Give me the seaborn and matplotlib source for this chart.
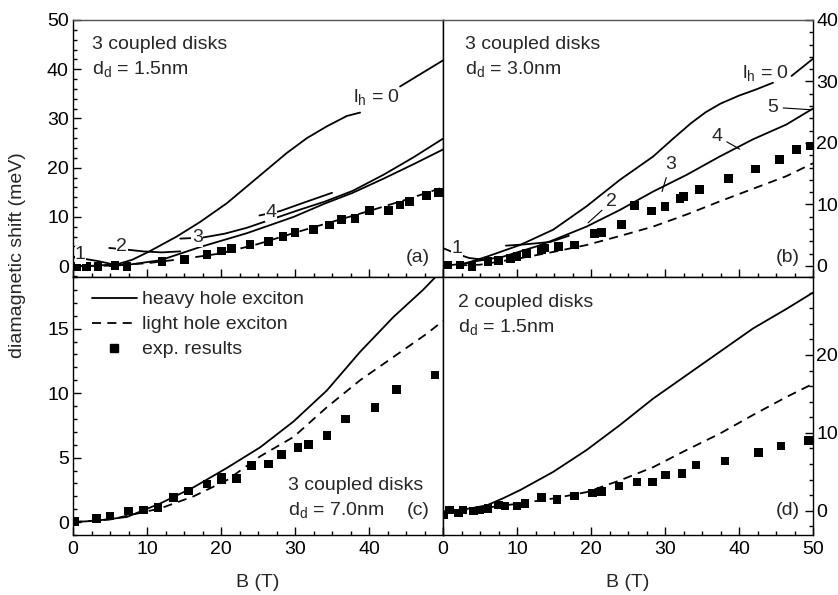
import matplotlib
matplotlib.use('Agg')
import matplotlib.pyplot as plt
import seaborn as sns
from matplotlib.ticker import MultipleLocator, FixedLocator
from matplotlib.lines import Line2D

# ---------------- data ----------------
# panel (a): 3 coupled disks, d_d = 1.5 nm
a_B0 = [0, 3, 6, 8, 10.2, 14.0, 17.2, 20.8, 23.5, 26.2, 28.9, 31.6, 34.3, 37.0, 38.8]
a_E0 = [0, 0.1, 0.4, 1.3, 2.9, 6.0, 9.0, 12.8, 16.2, 19.6, 23.0, 26.0, 28.4, 30.5, 31.2]
a_B0t = [44.2, 50]
a_E0t = [36.5, 41.8]
a_Bm = [5, 8, 11.8, 17.2, 23.5, 29.8, 34, 37.8, 42, 46, 50]
a_Em = [0, 0.4, 1.2, 3.9, 6.7, 10.0, 12.7, 14.9, 17.8, 20.7, 23.7]
a_B1 = [0, 1.5, 3.5, 5.9]
a_E1 = [1.8, 1.5, 1.0, 0.2]
a_B2 = [4.9, 7, 9.5, 12, 14.5]
a_E2 = [3.7, 3.4, 3.0, 2.8, 3.0]
a_B3 = [14.5, 17.5, 20.5, 23.5, 27, 30.5, 34, 37.8, 42, 46, 50]
a_E3 = [5.6, 5.8, 6.6, 7.8, 9.6, 11.4, 13.1, 15.3, 18.6, 22.1, 25.9]
a_B4 = [25.2, 28, 31, 35]
a_E4 = [10.3, 11.2, 12.8, 14.9]
a_Bl = [0, 5, 10, 15, 20, 25, 30, 35, 40, 45, 50]
a_El = [0, 0.1, 0.6, 1.5, 2.6, 4.5, 6.8, 9.0, 11.2, 13.5, 16.0]
a_Bx = [0.5, 1.85, 3.4, 5.7, 7.3, 12.0, 15.1, 18.1, 20.1, 21.4, 23.9, 26.4, 28.4, 30.0,
        32.5, 34.7, 36.3, 38.1, 40.1, 42.6, 44.2, 45.5, 47.8, 49.4]
a_Ex = [-0.1, -0.1, -0.1, 0.1, -0.1, 0.9, 1.4, 2.4, 3.1, 3.6, 4.4, 5.0, 6.0, 6.8,
        7.5, 8.4, 9.5, 9.7, 11.3, 11.3, 12.4, 13.1, 14.3, 15.0]

# panel (b): 3 coupled disks, d_d = 3.0 nm
b_B0 = [0, 3, 5.9, 10.4, 14.9, 19.4, 23.9, 28.4, 31, 33.5, 35.5, 37.5, 40, 42.3, 44.6]
b_E0 = [0, 0.4, 1.5, 3.4, 5.9, 9.7, 14.0, 17.8, 20.6, 23.2, 25.0, 26.4, 27.7, 28.7, 29.8]
b_B0t = [47.1, 50]
b_E0t = [30.9, 33.7]
b_Bm = [2, 4.1, 8.1, 12.7, 14.9, 19.4, 23.9, 28.4, 32.9, 37.4, 41.9, 46.4, 50]
b_Em = [0.2, 0.7, 1.5, 3.2, 4.2, 6.4, 9.1, 12.1, 14.8, 17.8, 20.6, 23.0, 25.6]
b_B1 = [0, 1.8, 3.5, 5.5]
b_E1 = [2.9, 2.0, 1.3, 1.0]
b_B2 = [8.5, 11, 14.5, 17]
b_E2 = [3.3, 3.5, 3.9, 4.9]
b_Bl = [0, 5, 10.4, 15, 19.4, 24, 28.4, 33, 37.4, 42, 46.4, 50]
b_El = [0, 0.2, 1.25, 2.3, 3.4, 4.9, 6.4, 8.4, 10.5, 12.6, 14.6, 16.7]
b_Bx = [0.7, 2.3, 3.9, 6.1, 7.5, 9.1, 10.0, 11.3, 13.3, 13.8, 15.6, 17.8, 20.5, 21.4,
        24.1, 25.9, 28.2, 30.0, 32.0, 32.5, 34.7, 38.6, 42.2, 45.5, 47.8, 49.6]
b_Ex = [0.16, 0.16, -0.1, 0.7, 0.9, 1.25, 1.5, 2.0, 2.7, 2.9, 3.2, 3.4, 5.3, 5.4,
        6.7, 9.8, 8.9, 9.7, 11.0, 11.3, 12.4, 14.2, 15.8, 17.3, 18.9, 19.5]

# panel (c): 3 coupled disks, d_d = 7.0 nm
c_Bh = [0, 3, 7.3, 11.8, 16.3, 20.8, 25.3, 29.8, 34.3, 38.8, 43.3, 47.3, 50]
c_Eh = [0, 0.1, 0.4, 1.45, 2.7, 4.2, 5.8, 7.8, 10.2, 13.2, 15.9, 18.0, 19.6]
c_Bl = [0, 5, 11.8, 16.3, 20.8, 25.3, 29.8, 34.3, 38.8, 43.3, 47.8, 50]
c_El = [0, 0.2, 1.06, 2.0, 3.25, 5.1, 6.6, 8.9, 11.0, 12.8, 14.6, 15.6]
c_Bx = [0.27, 3.2, 5.0, 7.5, 9.5, 11.5, 13.6, 15.6, 18.1, 20.1, 20.1, 22.1, 24.1, 26.4,
        28.2, 30.4, 31.8, 34.3, 36.8, 40.8, 43.7, 48.9]
c_Ex = [0.03, 0.28, 0.47, 0.85, 0.93, 1.14, 1.9, 2.4, 2.95, 3.5, 3.26, 3.4, 4.4, 4.5,
        5.25, 5.8, 6.0, 6.7, 8.0, 8.9, 10.3, 11.4]

# panel (d): 2 coupled disks, d_d = 1.5 nm
d_Bh = [0, 3.6, 5.9, 8.1, 10.4, 14.9, 19.4, 23.9, 28.4, 32.9, 37.4, 41.9, 46.4, 50]
d_Eh = [-0.1, 0.3, 0.7, 1.6, 2.65, 5.0, 7.8, 11.0, 14.4, 17.4, 20.4, 23.4, 25.9, 28.0]
d_Bl = [0, 5, 10.4, 15, 19.4, 23.9, 28.4, 32.9, 37.4, 41.9, 46.4, 50]
d_El = [-0.1, 0.3, 0.95, 1.6, 2.4, 3.9, 5.6, 7.8, 9.9, 12.3, 14.6, 16.3]
d_Bx = [0.05, 0.86, 2.1, 2.7, 4.1, 5.0, 6.1, 7.5, 8.4, 10.0, 11.1, 13.3, 15.4, 17.8,
        20.2, 21.4, 23.8, 26.2, 28.3, 30.1, 32.3, 34.2, 38.1, 42.6, 45.7, 49.4]
d_Ex = [-0.55, 0.09, -0.25, 0.09, 0.0, 0.09, 0.3, 0.73, 0.6, 0.6, 0.94, 1.7, 1.46, 1.9,
        2.3, 2.5, 3.2, 3.7, 3.7, 4.6, 4.8, 5.9, 6.4, 7.5, 8.3, 9.0]

legend_labels = ["heavy hole exciton", "light hole exciton", "exp. results"]

# ---------------- style ----------------
sns.set_theme(style='ticks')
plt.rcParams['font.family'] = ['Liberation Sans', 'DejaVu Sans']
plt.rcParams['mathtext.fontset'] = 'custom'
plt.rcParams['mathtext.rm'] = 'Liberation Sans'
plt.rcParams['mathtext.it'] = 'Liberation Sans:italic'
plt.rcParams['mathtext.sf'] = 'Liberation Sans'
plt.rcParams['axes.edgecolor'] = 'black'
plt.rcParams['axes.linewidth'] = 1.0
plt.rcParams['xtick.color'] = 'black'
plt.rcParams['ytick.color'] = 'black'
plt.rcParams['lines.dashed_pattern'] = [5, 3.5]
FS = 14

fig = plt.figure(figsize=(8.38, 5.95), dpi=100)
W, H = 838, 595
L, M, R = 73 / W, 443 / W, 813 / W
T, MID, BOT = 1 - 20 / H, 1 - 277 / H, 1 - 535 / H
axA = fig.add_axes([L, MID, M - L, T - MID])
axB = fig.add_axes([M, MID, R - M, T - MID])
axC = fig.add_axes([L, BOT, M - L, MID - BOT])
axD = fig.add_axes([M, BOT, R - M, MID - BOT])

LW = 1.3


def solid(ax, B, E):
    sns.lineplot(x=B, y=E, ax=ax, color='black', lw=LW, sort=False, estimator=None)


def dashed(ax, B, E):
    sns.lineplot(x=B, y=E, ax=ax, color='black', lw=LW, linestyle='--', sort=False, estimator=None)


def squares(ax, B, E):
    sns.scatterplot(x=B, y=E, ax=ax, marker='s', s=38, color='black', edgecolor='none', zorder=4)


# panel a
solid(axA, a_B0, a_E0)
solid(axA, a_B0t, a_E0t)
solid(axA, a_Bm, a_Em)
solid(axA, a_B1, a_E1)
solid(axA, a_B2, a_E2)
solid(axA, a_B3, a_E3)
solid(axA, a_B4, a_E4)
dashed(axA, a_Bl, a_El)
squares(axA, a_Bx, a_Ex)

# panel b
solid(axB, b_B0, b_E0)
solid(axB, b_B0t, b_E0t)
solid(axB, b_Bm, b_Em)
solid(axB, b_B1, b_E1)
solid(axB, b_B2, b_E2)
dashed(axB, b_Bl, b_El)
squares(axB, b_Bx, b_Ex)

# panel c
solid(axC, c_Bh, c_Eh)
dashed(axC, c_Bl, c_El)
squares(axC, c_Bx, c_Ex)

# panel d
solid(axD, d_Bh, d_Eh)
dashed(axD, d_Bl, d_El)
squares(axD, d_Bx, d_Ex)

# ---------------- axes ----------------
for ax in (axA, axB, axC, axD):
    ax.set_xlim(0, 50)
    ax.xaxis.set_major_locator(MultipleLocator(10))
    ax.xaxis.set_minor_locator(MultipleLocator(2.5))
    ax.tick_params(which='both', direction='in', width=1.0, labelsize=FS, colors='black')
    ax.tick_params(which='major', length=5.5)
    ax.tick_params(which='minor', length=2.8)
    ax.set_xlabel('')
    ax.set_ylabel('')
    for s in ax.spines.values():
        s.set_color('black')
        s.set_linewidth(1.0)

for ax in (axA, axB):
    ax.spines['top'].set_color('#555555')

axA.set_ylim(-2.2, 50)
axA.yaxis.set_major_locator(MultipleLocator(10))
axA.yaxis.set_minor_locator(MultipleLocator(2))
axA.tick_params(which='both', left=True, right=False, top=False, bottom=True,
                labelleft=True, labelbottom=False)
axA.tick_params(axis='y', pad=3)

axB.set_ylim(-1.8, 40)
axB.yaxis.set_major_locator(MultipleLocator(10))
axB.yaxis.set_minor_locator(MultipleLocator(2))
axB.yaxis.tick_right()
axB.tick_params(which='both', left=False, right=True, top=False, bottom=True,
                labelleft=False, labelright=True, labelbottom=False)
axB.tick_params(axis='y', pad=2.5)

axC.set_ylim(-1.0, 19)
axC.yaxis.set_major_locator(FixedLocator([0, 5, 10, 15]))
axC.yaxis.set_minor_locator(MultipleLocator(1))
axC.tick_params(which='both', left=True, right=False, top=False, bottom=True,
                labelleft=True, labelbottom=True)
axC.set_xticks([0, 10, 20, 30, 40, 50])
axC.set_xticklabels(['0', '10', '20', '30', '40', ''])
axC.tick_params(axis='x', pad=4)
axC.tick_params(axis='y', pad=3)

axD.set_ylim(-3.1, 30)
axD.yaxis.set_major_locator(FixedLocator([0, 10, 20]))
axD.yaxis.set_minor_locator(MultipleLocator(2))
axD.yaxis.tick_right()
axD.tick_params(which='both', left=False, right=True, top=False, bottom=True,
                labelleft=False, labelright=True, labelbottom=True)
axD.tick_params(axis='x', pad=4)
axD.tick_params(axis='y', pad=2.5)

axC.set_xlabel('B (T)', fontsize=FS, labelpad=12)
axD.set_xlabel('B (T)', fontsize=FS, labelpad=12)
fig.text(18 / W, 1 - 255 / H, 'diamagnetic shift (meV)', rotation=90, ha='center', va='center', fontsize=FS)

# ---------------- annotations ----------------
wb = dict(facecolor='white', edgecolor='none', pad=0.3)
axA.text(0.05, 0.905, '3 coupled disks', transform=axA.transAxes, fontsize=FS, va='center')
axA.text(0.05, 0.81, r'd$_\mathregular{d}$ = 1.5nm', transform=axA.transAxes, fontsize=FS, va='center')
axA.text(0.965, 0.075, '(a)', transform=axA.transAxes, fontsize=FS, ha='right', va='center')
axA.text(41.0, 34.3, r'l$_\mathregular{h}$ = 0', fontsize=FS, ha='center', va='center')
axA.text(1.0, 2.3, '1', fontsize=FS, ha='center', va='center', bbox=wb, zorder=5)
axA.text(6.6, 3.9, '2', fontsize=FS, ha='center', va='center', bbox=wb, zorder=5)
axA.text(16.8, 5.8, '3', fontsize=FS, ha='center', va='center', bbox=wb, zorder=5)
axA.text(26.8, 10.8, '4', fontsize=FS, ha='center', va='center', bbox=wb, zorder=5)

axB.text(0.06, 0.905, '3 coupled disks', transform=axB.transAxes, fontsize=FS, va='center')
axB.text(0.06, 0.81, r'd$_\mathregular{d}$ = 3.0nm', transform=axB.transAxes, fontsize=FS, va='center')
axB.text(0.965, 0.075, '(b)', transform=axB.transAxes, fontsize=FS, ha='right', va='center')
axB.text(43.6, 31.4, r'l$_\mathregular{h}$ = 0', fontsize=FS, ha='center', va='center')
axB.text(1.85, 2.9, '1', fontsize=FS, ha='center', va='center', bbox=wb, zorder=5)
lead = dict(arrowstyle='-', lw=0.8, color='black', shrinkA=1, shrinkB=0)
axB.annotate('2', xy=(19.6, 7.0), xytext=(22.8, 10.5), fontsize=FS, ha='center', va='center', arrowprops=lead)
axB.annotate('3', xy=(29.6, 12.1), xytext=(30.7, 16.5), fontsize=FS, ha='center', va='center', arrowprops=lead)
axB.annotate('4', xy=(40.1, 19.0), xytext=(37.0, 21.1), fontsize=FS, ha='center', va='center', arrowprops=lead)
axB.annotate('5', xy=(49.8, 25.4), xytext=(44.6, 25.8), fontsize=FS, ha='center', va='center', arrowprops=lead)

axC.text(0.58, 0.19, '3 coupled disks', transform=axC.transAxes, fontsize=FS, va='center')
axC.text(0.58, 0.095, r'd$_\mathregular{d}$ = 7.0nm', transform=axC.transAxes, fontsize=FS, va='center')
axC.text(0.965, 0.095, '(c)', transform=axC.transAxes, fontsize=FS, ha='right', va='center')

axD.text(0.04, 0.90, '2 coupled disks', transform=axD.transAxes, fontsize=FS, va='center')
axD.text(0.04, 0.805, r'd$_\mathregular{d}$ = 1.5nm', transform=axD.transAxes, fontsize=FS, va='center')
axD.text(0.965, 0.095, '(d)', transform=axD.transAxes, fontsize=FS, ha='right', va='center')

handles = [Line2D([], [], color='black', lw=LW),
           Line2D([], [], color='black', lw=LW, linestyle='--'),
           Line2D([], [], color='black', marker='s', linestyle='none', markersize=6.2)]
axC.legend(handles, legend_labels, loc='upper left', frameon=False, fontsize=FS,
           handlelength=2.3, handletextpad=0.3, labelspacing=0.38,
           borderaxespad=0.0, bbox_to_anchor=(0.03, 0.977))

fig.savefig('out.png', dpi=100)
